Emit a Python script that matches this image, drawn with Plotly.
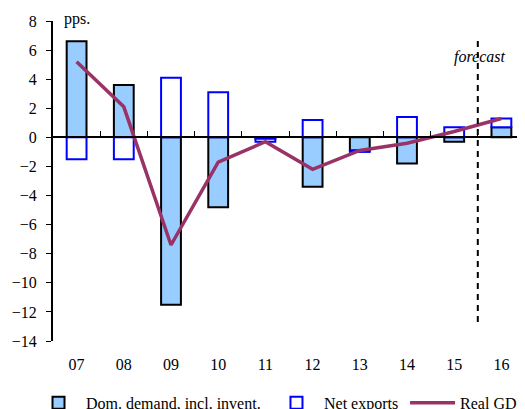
import plotly.graph_objects as go

years = ["07", "08", "09", "10", "11", "12", "13", "14", "15", "16"]
dom_demand = [6.6, 3.6, -11.5, -4.8, -0.1, -3.4, -0.9, -1.8, -0.3, 0.7]
net_exports = [-1.5, -1.5, 4.1, 3.1, -0.2, 1.2, -0.1, 1.4, 0.7, 0.6]
real_gdp = [5.2, 2.1, -7.4, -1.7, -0.3, -2.2, -0.9, -0.4, 0.4, 1.3]
y_ticks = list(range(-14, 9, 2))
forecast_boundary = 8.5
forecast_line_span = [-12.7, 6.8]

xpos = list(range(len(years)))
FONT = "Liberation Serif"

fig = go.Figure()
fig.add_trace(go.Bar(
    x=xpos, y=dom_demand, name="Dom. demand, incl. invent.",
    marker=dict(color="#99CCFF", line=dict(color="black", width=2)),
    width=0.42, legend="legend",
))
fig.add_trace(go.Bar(
    x=xpos, y=net_exports, name="Net exports",
    marker=dict(color="white", line=dict(color="#0000FF", width=2)),
    width=0.42, legend="legend2",
))
fig.add_trace(go.Scatter(
    x=xpos, y=real_gdp, name="Real GDP", mode="lines",
    line=dict(color="#993366", width=3.5), legend="legend3",
))
# helper (invisible) trace to carry the zero-line axis
fig.add_trace(go.Scatter(
    x=xpos, y=[0] * len(xpos), xaxis="x2", mode="lines",
    line=dict(width=0, color="rgba(0,0,0,0)"), showlegend=False, hoverinfo="skip",
))

yr = [min(y_ticks), max(y_ticks)]
zero_pos = (0 - yr[0]) / (yr[1] - yr[0])


def leg(x):
    return dict(orientation="h", xref="container", yref="container",
                x=x, xanchor="left", y=0.0575, yanchor="top",
                itemwidth=45, font=dict(size=16, family=FONT),
                bgcolor="rgba(0,0,0,0)")


fig.update_layout(
    width=517, height=401,
    margin=dict(l=45, r=0, t=13, b=68, autoexpand=False),
    paper_bgcolor="white", plot_bgcolor="white",
    barmode="relative",
    font=dict(family=FONT, size=16, color="black"),
    showlegend=True,
    legend=leg(0.0445),
    legend2=leg(0.5048),
    legend3=leg(0.768),
    xaxis=dict(
        range=[-0.5, len(years) - 0.5], tickvals=xpos, ticktext=years,
        showgrid=False, zeroline=False, showline=False, ticks="",
        ticklabelstandoff=12, automargin=False,
    ),
    xaxis2=dict(
        overlaying="x", anchor="free", position=zero_pos, side="bottom",
        range=[-0.5, len(years) - 0.5],
        tickvals=[i + 0.5 for i in xpos[:-1]],
        showticklabels=False, ticks="inside", ticklen=5, tickwidth=1, tickcolor="black",
        showline=True, linecolor="black", linewidth=2, showgrid=False, zeroline=False,
        automargin=False,
    ),
    yaxis=dict(
        range=yr, tickvals=y_ticks, showgrid=False, zeroline=False,
        showline=True, linecolor="black", linewidth=2,
        ticks="outside", ticklen=5, tickwidth=1, tickcolor="black",
        ticklabelstandoff=6, automargin=False,
    ),
)

fig.add_shape(type="line", xref="x", yref="y",
              x0=forecast_boundary, x1=forecast_boundary,
              y0=forecast_line_span[0], y1=forecast_line_span[1],
              line=dict(color="black", width=2, dash="6px,5px"))

fig.add_annotation(text="forecast", xref="x", yref="y", x=8.55, y=5.5,
                   showarrow=False, font=dict(size=16, family=FONT, style="italic"))
fig.add_annotation(text="pps.", xref="paper", yref="paper", x=0.02, y=1.0,
                   xanchor="left", yanchor="middle", yshift=2, showarrow=False,
                   font=dict(size=16, family=FONT))

fig.write_html("out.html")
